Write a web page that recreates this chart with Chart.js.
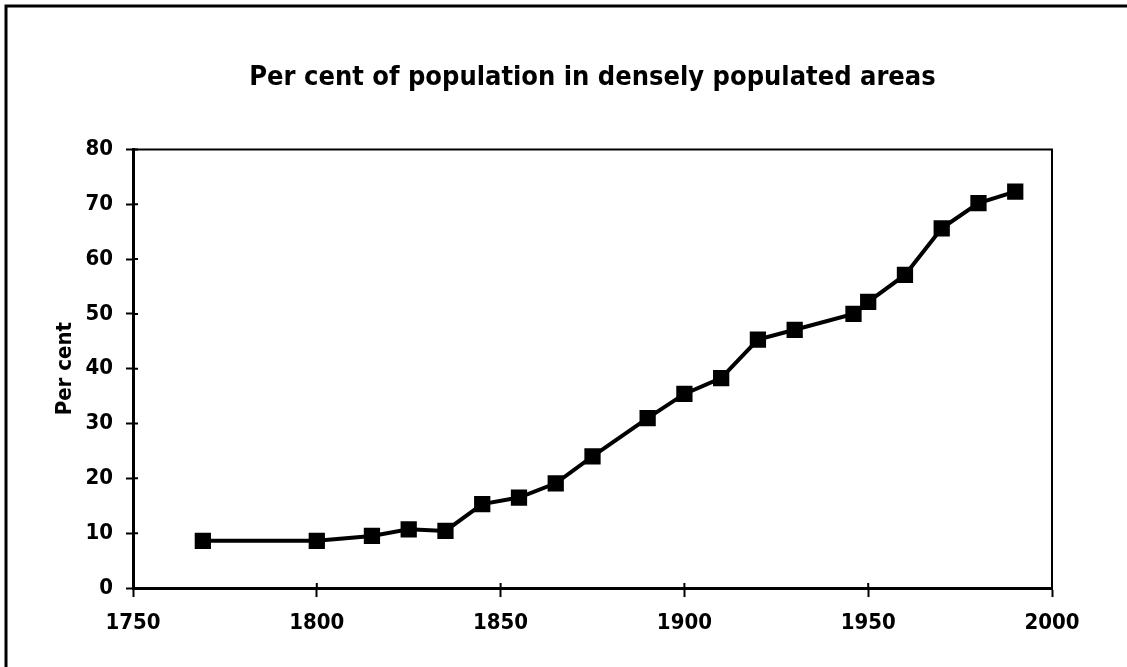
<!DOCTYPE html>
<html>
<head>
<meta charset="utf-8">
<title>Per cent of population in densely populated areas</title>
<script src="https://cdn.jsdelivr.net/npm/chart.js@4/dist/chart.umd.min.js"></script>
<style>
  html, body { margin: 0; padding: 0; background: #fff; }
  canvas { display: block; }
</style>
</head>
<body>
<canvas id="popChart" width="1127" height="667"></canvas>
<script>
// data
const years = [1769, 1800, 1815, 1825, 1835, 1845, 1855, 1865, 1875, 1890, 1900, 1910, 1920, 1930, 1946, 1950, 1960, 1970, 1980, 1990];
const percent = [8.6, 8.6, 9.5, 10.7, 10.4, 15.3, 16.5, 19.1, 24.0, 31.0, 35.4, 38.3, 45.3, 47.1, 50.0, 52.2, 57.1, 65.6, 70.2, 72.3];
const xTickValues = [1750, 1800, 1850, 1900, 1950, 2000];
const yTickValues = [0, 10, 20, 30, 40, 50, 60, 70, 80];

const FONT = "'Liberation Sans Narrow', 'DejaVu Sans Condensed', 'Liberation Sans', sans-serif";

// outer frame (top + left edge of the scanned page)
const framePlugin = {
    id: 'frame',
    beforeDraw(chart) {
        const ctx = chart.ctx;
        ctx.save();
        ctx.strokeStyle = '#000';
        ctx.lineWidth = 3;
        ctx.beginPath();
        ctx.moveTo(6, chart.height);
        ctx.lineTo(6, 6);
        ctx.lineTo(chart.width, 6);
        ctx.stroke();
        ctx.restore();
    }
};

// top/right border of the plot box and the tick parts inside the axes
const boxPlugin = {
    id: 'box',
    afterDraw(chart) {
        const ctx = chart.ctx;
        const a = chart.chartArea;
        const xs = chart.scales.x, ys = chart.scales.y;
        ctx.save();
        ctx.strokeStyle = '#000';
        ctx.lineWidth = 2;
        ctx.beginPath();
        ctx.moveTo(a.left, a.top);
        ctx.lineTo(a.right, a.top);
        ctx.lineTo(a.right, a.bottom);
        ctx.stroke();

        ctx.beginPath();
        yTickValues.forEach(v => {
            const py = ys.getPixelForValue(v);
            ctx.moveTo(a.left, py);
            ctx.lineTo(a.left + 5, py);
        });
        xTickValues.forEach(v => {
            const px = xs.getPixelForValue(v);
            ctx.moveTo(px, a.bottom);
            ctx.lineTo(px, a.bottom - 5);
        });
        ctx.stroke();
        ctx.restore();
    }
};

const chart = new Chart(document.getElementById('popChart'), {
    type: 'scatter',
    data: {
        datasets: [{
            label: 'Per cent',
            data: years.map((y, i) => ({ x: y, y: percent[i] })),
            showLine: true,
            borderColor: '#000',
            backgroundColor: '#000',
            borderWidth: 4,
            pointStyle: 'rect',
            pointRadius: 11.5,
            pointBorderWidth: 0,
            tension: 0
        }]
    },
    options: {
        responsive: false,
        animation: false,
        layout: { padding: { left: 0, right: 75, top: 0, bottom: 0 } },
        scales: {
            x: {
                type: 'linear',
                min: 1750,
                max: 2000,
                afterBuildTicks: axis => { axis.ticks = xTickValues.map(v => ({ value: v })); },
                afterFit: axis => { axis.height = 79; },
                grid: { drawOnChartArea: false, drawTicks: true, tickLength: 9, tickWidth: 2, tickColor: '#000' },
                border: { display: true, color: '#000', width: 3 },
                ticks: {
                    padding: 13,
                    color: '#000',
                    font: { family: FONT, size: 22, weight: 'bold' },
                    callback: v => String(v),
                    maxRotation: 0
                }
            },
            y: {
                min: 0,
                max: 80,
                afterBuildTicks: axis => { axis.ticks = yTickValues.map(v => ({ value: v })); },
                afterFit: axis => { axis.width = 133; },
                grid: { drawOnChartArea: false, drawTicks: true, tickLength: 7, tickWidth: 2, tickColor: '#000' },
                border: { display: true, color: '#000', width: 3 },
                title: {
                    display: true,
                    text: 'Per cent',
                    color: '#000',
                    font: { family: FONT, size: 22, weight: 'bold' },
                    padding: { top: 52, bottom: 0 }
                },
                ticks: {
                    padding: 13,
                    color: '#000',
                    font: { family: FONT, size: 22, weight: 'bold' },
                    callback: v => String(v)
                }
            }
        },
        plugins: {
            legend: { display: false },
            tooltip: { enabled: false },
            title: {
                display: true,
                fullSize: false,
                text: 'Per cent of population in densely populated areas',
                color: '#000',
                font: { family: FONT, size: 27, weight: 'bold' },
                padding: { top: 62, bottom: 55 }
            }
        }
    },
    plugins: [framePlugin, boxPlugin]
});
</script>
</body>
</html>
